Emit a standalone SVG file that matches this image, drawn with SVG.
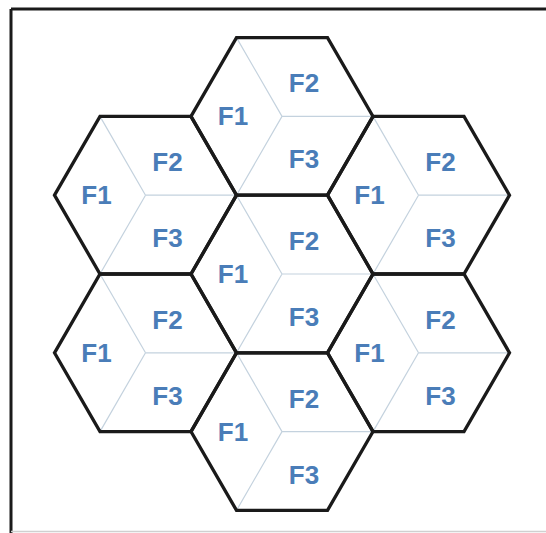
<svg xmlns="http://www.w3.org/2000/svg" xmlns:xlink="http://www.w3.org/1999/xlink" width="546" height="533" viewBox="0 0 546 533">
  <style>
    .div { fill: none; stroke: #c4d2de; stroke-width: 1.2; }
    .hex { fill: none; stroke: #1a1a1a; stroke-width: 3.3; stroke-linejoin: miter; }
    .lbl { font-family: "Liberation Sans", Arial, sans-serif; font-weight: bold; font-size: 26px; fill: #4a7db8; text-anchor: middle; }
  </style>
  <defs>
    <path id="dividers" class="div" d="M0,0 L-45.5,-78.8 M0,0 L91,0 M0,0 L-45.5,78.8"/>
    <path id="outline" class="hex" d="M-91,0 L-45.5,-78.8 L45.5,-78.8 L91,0 L45.5,78.8 L-45.5,78.8 Z"/>
  </defs>
  <rect x="0" y="0" width="546" height="533" fill="#ffffff"/>
  <g id="frame">
    <line x1="11" y1="9" x2="546" y2="9" stroke="#1a1a1a" stroke-width="3"/>
    <line x1="11" y1="9" x2="11" y2="533" stroke="#1a1a1a" stroke-width="3"/>
    <line x1="11" y1="531.5" x2="546" y2="531.5" stroke="#d0d0d0" stroke-width="1.5"/>
  </g>
  <g id="dividers-all">
    <use xlink:href="#dividers" transform="translate(282,116.4)"/>
    <use xlink:href="#dividers" transform="translate(145.5,195.2)"/>
    <use xlink:href="#dividers" transform="translate(418.5,195.2)"/>
    <use xlink:href="#dividers" transform="translate(282,274)"/>
    <use xlink:href="#dividers" transform="translate(145.5,352.8)"/>
    <use xlink:href="#dividers" transform="translate(418.5,352.8)"/>
    <use xlink:href="#dividers" transform="translate(282,431.6)"/>
  </g>
  <g id="cell-top" transform="translate(282,116.4)">
    <use xlink:href="#outline"/>
    <text class="lbl" x="-49" y="9">F1</text>
    <text class="lbl" x="22" y="-24">F2</text>
    <text class="lbl" x="22" y="52">F3</text>
  </g>
  <g id="cell-upper-left" transform="translate(145.5,195.2)">
    <use xlink:href="#outline"/>
    <text class="lbl" x="-49" y="9">F1</text>
    <text class="lbl" x="22" y="-24">F2</text>
    <text class="lbl" x="22" y="52">F3</text>
  </g>
  <g id="cell-upper-right" transform="translate(418.5,195.2)">
    <use xlink:href="#outline"/>
    <text class="lbl" x="-49" y="9">F1</text>
    <text class="lbl" x="22" y="-24">F2</text>
    <text class="lbl" x="22" y="52">F3</text>
  </g>
  <g id="cell-center" transform="translate(282,274)">
    <use xlink:href="#outline"/>
    <text class="lbl" x="-49" y="9">F1</text>
    <text class="lbl" x="22" y="-24">F2</text>
    <text class="lbl" x="22" y="52">F3</text>
  </g>
  <g id="cell-lower-left" transform="translate(145.5,352.8)">
    <use xlink:href="#outline"/>
    <text class="lbl" x="-49" y="9">F1</text>
    <text class="lbl" x="22" y="-24">F2</text>
    <text class="lbl" x="22" y="52">F3</text>
  </g>
  <g id="cell-lower-right" transform="translate(418.5,352.8)">
    <use xlink:href="#outline"/>
    <text class="lbl" x="-49" y="9">F1</text>
    <text class="lbl" x="22" y="-24">F2</text>
    <text class="lbl" x="22" y="52">F3</text>
  </g>
  <g id="cell-bottom" transform="translate(282,431.6)">
    <use xlink:href="#outline"/>
    <text class="lbl" x="-49" y="9">F1</text>
    <text class="lbl" x="22" y="-24">F2</text>
    <text class="lbl" x="22" y="52">F3</text>
  </g>
</svg>
